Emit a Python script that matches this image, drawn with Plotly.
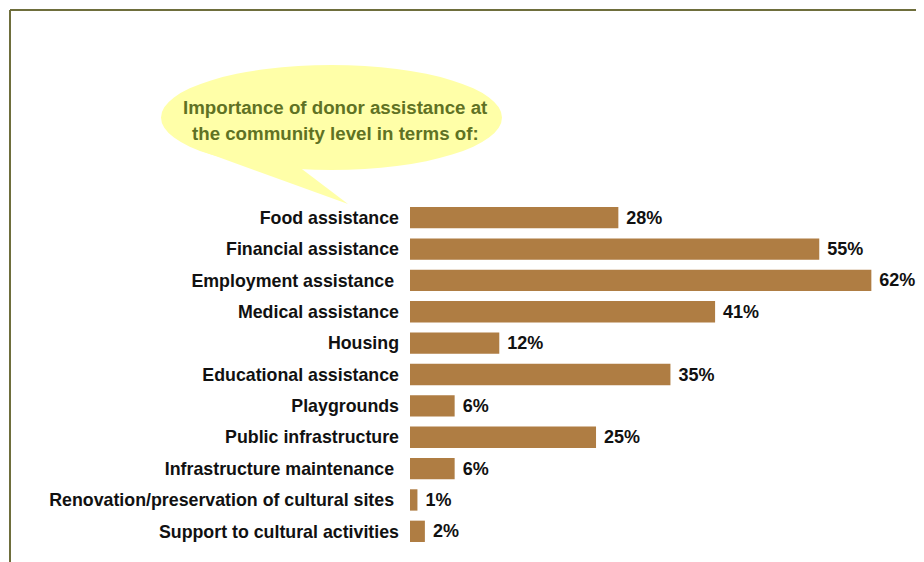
import plotly.graph_objects as go

categories = [
    "Food assistance",
    "Financial assistance",
    "Employment assistance\u00a0",
    "Medical assistance",
    "Housing",
    "Educational assistance",
    "Playgrounds",
    "Public infrastructure",
    "Infrastructure maintenance\u00a0",
    "Renovation/preservation of cultural sites\u00a0",
    "Support to cultural activities",
]
values = [28, 55, 62, 41, 12, 35, 6, 25, 6, 1, 2]
value_labels = [f"\u00a0{v}%" for v in values]
title_lines = ["Importance of donor assistance at", "the community level in terms of:"]

# page draws the figure with an 8px body margin
OFF = 8
W, H = 924 - OFF, 562 - OFF
L, R, T, B = 410 - OFF, 8, 202 - OFF, 15
pw, ph = W - L - R, H - T - B

def px(x):
    return (x - OFF - L) / pw

def py(y):
    return (H - B - (y - OFF)) / ph

FONT = "Liberation Sans, Arial, sans-serif"

fig = go.Figure(go.Bar(
    x=values, y=categories, orientation="h",
    marker=dict(color="#AF7D43", line=dict(width=0)),
    width=0.68,
    text=value_labels, textposition="outside", cliponaxis=False,
    textfont=dict(family=FONT, size=18, color="#111111", weight="bold"),
    hoverinfo="skip",
))

shapes = [
    # border
    dict(type="line", xref="paper", yref="paper", x0=px(10), x1=px(940), y0=py(10), y1=py(10),
         line=dict(color="#6E6E3C", width=2)),
    dict(type="line", xref="paper", yref="paper", x0=px(10), x1=px(10), y0=py(10), y1=py(580),
         line=dict(color="#6E6E3C", width=2)),
    # bubble
    dict(type="circle", xref="paper", yref="paper", x0=px(161), x1=px(502), y0=py(170), y1=py(65),
         fillcolor="#FFFFA8", line=dict(width=0), layer="below"),
    dict(type="path", xref="paper", yref="paper",
         path=f"M {px(348)},{py(204)} L {px(199)},{py(150)} L {px(230)},{py(130)} L {px(290)},{py(160)} Z",
         fillcolor="#FFFFA8", line=dict(width=0), layer="below"),
]

annotations = [
    dict(text=title_lines[0], xref="paper", yref="paper", x=px(335), y=py(107),
         xanchor="center", yanchor="middle", showarrow=False,
         font=dict(family=FONT, size=18.7, color="#5F7224", weight="bold")),
    dict(text=title_lines[1], xref="paper", yref="paper", x=px(335), y=py(133),
         xanchor="center", yanchor="middle", showarrow=False,
         font=dict(family=FONT, size=18.7, color="#5F7224", weight="bold")),
]

fig.update_layout(
    width=W, height=H,
    margin=dict(l=L, r=R, t=T, b=B),
    paper_bgcolor="white", plot_bgcolor="white",
    showlegend=False,
    shapes=shapes, annotations=annotations,
    xaxis=dict(range=[0, 68], visible=False, fixedrange=True),
    yaxis=dict(autorange="reversed", showgrid=False, zeroline=False, showline=False,
               ticks="", ticklabelstandoff=10,
               tickfont=dict(family=FONT, size=17.8, color="#111111", weight="bold")),
    font=dict(family=FONT),
)

fig.write_html("out.html")
